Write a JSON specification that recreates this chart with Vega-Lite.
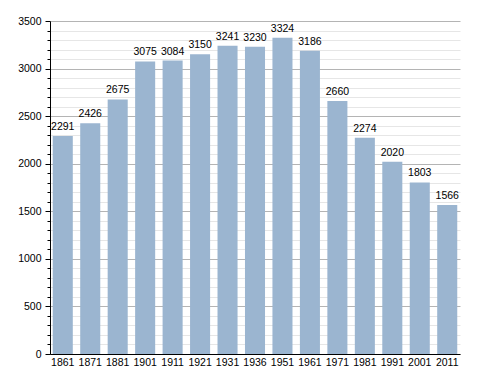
{
  "$schema": "https://vega.github.io/schema/vega-lite/v6.json",
  "autosize": {"type": "none"},
  "width": 410,
  "height": 333,
  "padding": {"left": 50, "top": 21, "right": 28, "bottom": 19},
  "background": "white",
  "data": {"values": [
    {"year": "1861", "pop": 2291},
    {"year": "1871", "pop": 2426},
    {"year": "1881", "pop": 2675},
    {"year": "1901", "pop": 3075},
    {"year": "1911", "pop": 3084},
    {"year": "1921", "pop": 3150},
    {"year": "1931", "pop": 3241},
    {"year": "1936", "pop": 3230},
    {"year": "1951", "pop": 3324},
    {"year": "1961", "pop": 3186},
    {"year": "1971", "pop": 2660},
    {"year": "1981", "pop": 2274},
    {"year": "1991", "pop": 2020},
    {"year": "2001", "pop": 1803},
    {"year": "2011", "pop": 1566}
  ]},
  "config": {
    "view": {"stroke": null},
    "font": "Liberation Sans",
    "axis": {"labelFont": "Liberation Sans", "labelFontSize": 10.5, "labelColor": "#000"}
  },
  "encoding": {
    "x": {
      "field": "year", "type": "ordinal", "sort": null,
      "scale": {"paddingInner": 0.27, "paddingOuter": 0.1},
      "axis": {"title": null, "labelAngle": 0, "ticks": false, "domainColor": "#000", "labelPadding": 3, "grid": false}
    },
    "y": {
      "field": "pop", "type": "quantitative",
      "scale": {"domain": [0, 3500], "nice": false},
      "axis": {
        "title": null,
        "values": [0,100,200,300,400,500,600,700,800,900,1000,1100,1200,1300,1400,1500,1600,1700,1800,1900,2000,2100,2200,2300,2400,2500,2600,2700,2800,2900,3000,3100,3200,3300,3400,3500],
        "labelExpr": "datum.value % 500 === 0 ? datum.value : ''",
        "grid": true,
        "gridColor": {"condition": {"test": "datum.value % 500 === 0", "value": "#b4b4b4"}, "value": "#e6e6e6"},
        "tickColor": "#000",
        "tickSize": {"condition": {"test": "datum.value % 500 === 0", "value": 5}, "value": 3},
        "domainColor": "#000",
        "labelPadding": 4
      }
    }
  },
  "layer": [
    {"mark": {"type": "bar", "color": "#9bb5d0"}},
    {"mark": {"type": "text", "baseline": "bottom", "dy": -4, "fontSize": 10.5, "color": "#000"},
     "encoding": {"text": {"field": "pop", "type": "quantitative", "format": "d"}}}
  ]
}
